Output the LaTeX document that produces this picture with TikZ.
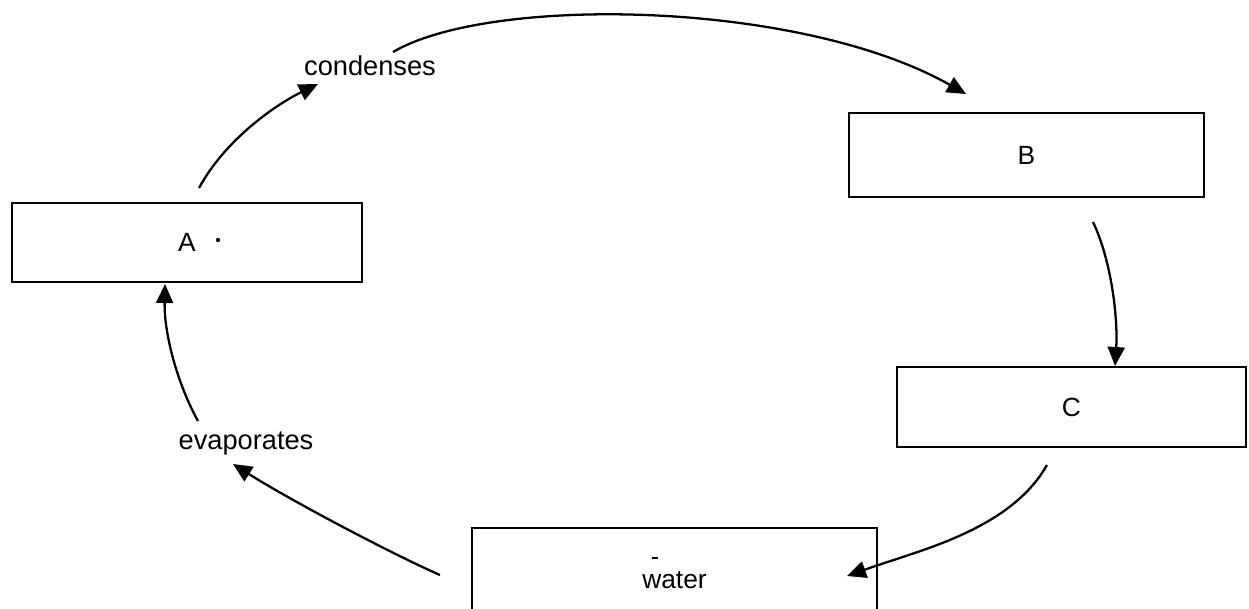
\documentclass[tikz,border=0pt]{standalone}
\usepackage{fontspec}
\setmainfont{Liberation Sans}
\usetikzlibrary{arrows.meta}
\begin{document}
\begin{tikzpicture}[x=0.02cm,y=-0.02cm,
  box/.style={draw,line width=1.3pt,inner sep=0pt,font=\fontsize{15}{18}\selectfont},
  lbl/.style={inner sep=1pt,font=\fontsize{15.5}{18}\selectfont},
  arr/.style={line width=1.3pt,-{Triangle[length=3.8mm,width=3.4mm]}}]
\useasboundingbox (0,0) rectangle (1249,609);
% boxes
\node[box,minimum width=7cm,minimum height=1.58cm] (A) at (187,242.5) {A};
\node[box,minimum width=7.1cm,minimum height=1.68cm] (B) at (1026.5,155) {B};
\node[box,minimum width=6.98cm,minimum height=1.6cm] (C) at (1071.5,407) {C};
\node[box,minimum width=8.1cm,minimum height=2.08cm] (W) at (674.5,580) {water};
% labels
\node[lbl] (cond) at (370,66) {condenses};
\node[lbl] (evap) at (246,444) {evaporates};
% connector ends
\coordinate (a1) at (199,188);
\coordinate (c1) at (318,84);
\coordinate (c2) at (393,52);
\coordinate (b1) at (966,94);
\coordinate (b2) at (1093,222);
\coordinate (cc1) at (1115,366);
\coordinate (cc2) at (1047,465);
\coordinate (w1) at (847,576);
\coordinate (w2) at (440,575);
\coordinate (e1) at (233,464);
\coordinate (e2) at (198,421);
\coordinate (a2) at (165,284);
% connectors
\draw[arr] (a1) .. controls (225,140) and (275,105) .. (c1);
\draw[arr] (c2) .. controls (490,-5) and (800,0) .. (b1);
\draw[arr] (b2) .. controls (1112,262) and (1118,320) .. (cc1);
\draw[arr] (cc2) .. controls (1010,530) and (920,550) .. (w1);
\draw[arr] (w2) .. controls (390,553) and (290,500) .. (e1);
\draw[arr] (e2) .. controls (178,385) and (164,335) .. (a2);
% small marks
\fill (218,240) circle (2.2);
\draw[line width=0.8pt] (652,558) -- (658,558);
\end{tikzpicture}
\end{document}
